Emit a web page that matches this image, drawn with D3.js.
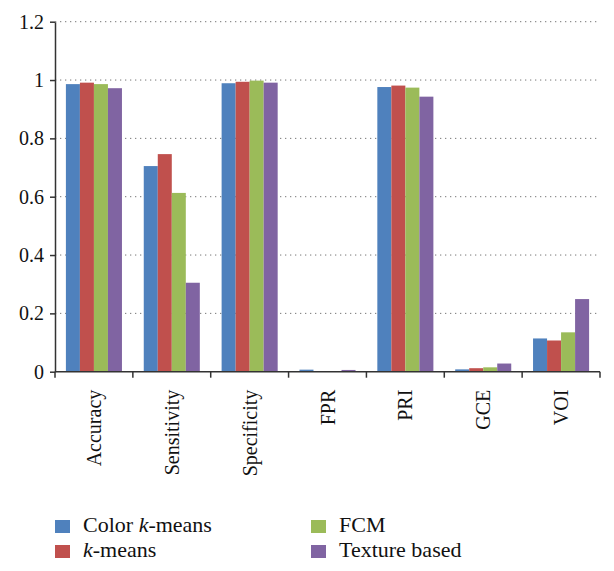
<!DOCTYPE html>
<html>
<head>
<meta charset="utf-8">
<script src="https://cdn.jsdelivr.net/npm/d3@7"></script>
<style>
  body { margin: 0; background: #fff; }
  text { font-family: "Liberation Serif", "DejaVu Serif", serif; fill: #111; }
</style>
</head>
<body>
<div class="canvas-graph"></div>
<script>
const categories = ['Accuracy', 'Sensitivity', 'Specificity', 'FPR', 'PRI', 'GCE', 'VOI'];
const seriesNames = ['Color k-means', 'k-means', 'FCM', 'Texture based'];
const colorKMeans = [0.986, 0.705, 0.989, 0.007, 0.976, 0.008, 0.114];
const kMeans      = [0.991, 0.746, 0.994, 0.002, 0.981, 0.012, 0.107];
const fcm         = [0.986, 0.613, 0.998, 0.001, 0.974, 0.015, 0.135];
const texture     = [0.972, 0.305, 0.991, 0.006, 0.943, 0.028, 0.249];
const yTicks = [0, 0.2, 0.4, 0.6, 0.8, 1, 1.2];

const seriesValues = [colorKMeans, kMeans, fcm, texture];
const colors = ['#4F81BD', '#C0504D', '#9BBB59', '#8064A2'];

const dims = { width: 614, height: 571 };
const plot = { left: 55, right: 600, top: 21.7, bottom: 371.7 };

const svg = d3.select('.canvas-graph')
    .append('svg')
    .attr('width', dims.width)
    .attr('height', dims.height);

const x = d3.scaleBand()
    .domain(categories)
    .range([plot.left, plot.right])
    .paddingInner(0.28)
    .paddingOuter(0.14);

const x1 = d3.scaleBand()
    .domain(seriesNames)
    .range([0, x.bandwidth()]);

const y = d3.scaleLinear()
    .domain([0, 1.2])
    .range([plot.bottom, plot.top]);

const color = d3.scaleOrdinal().domain(seriesNames).range(colors);

// dotted gridlines
svg.append('g')
    .selectAll('line')
    .data(yTicks.filter(d => d > 0))
    .enter()
    .append('line')
    .attr('x1', plot.left)
    .attr('x2', plot.right)
    .attr('y1', d => y(d))
    .attr('y2', d => y(d))
    .attr('stroke', '#777')
    .attr('stroke-width', 1)
    .attr('stroke-dasharray', '1.3,3.7');

// bars
const rows = categories.map((c, i) => ({
    cat: c,
    vals: seriesNames.map((s, j) => ({ name: s, value: seriesValues[j][i] }))
}));

svg.append('g')
    .selectAll('g')
    .data(rows)
    .enter()
    .append('g')
    .attr('transform', d => `translate(${x(d.cat)}, 0)`)
    .selectAll('rect')
    .data(d => d.vals)
    .enter()
    .append('rect')
    .attr('x', d => x1(d.name))
    .attr('width', x1.bandwidth())
    .attr('y', d => y(d.value))
    .attr('height', d => y(0) - y(d.value))
    .attr('fill', d => color(d.name));

// y axis
const yAxis = d3.axisLeft(y)
    .tickValues(yTicks)
    .tickFormat(d => d3.format('')(+d.toFixed(1)))
    .tickSize(5)
    .tickSizeOuter(0)
    .tickPadding(6);

const yG = svg.append('g')
    .attr('transform', `translate(${plot.left}, 0)`)
    .call(yAxis);
yG.select('.domain').attr('stroke', '#333').attr('stroke-width', 1.5);
yG.selectAll('.tick line').attr('stroke', '#333').attr('stroke-width', 1.5);
yG.selectAll('text')
    .style('font-family', '"Liberation Serif", serif')
    .style('font-size', '20px')
    .attr('fill', '#111');

// x axis line and boundary ticks
const xG = svg.append('g');
xG.append('line')
    .attr('x1', plot.left)
    .attr('x2', plot.right)
    .attr('y1', y(0))
    .attr('y2', y(0))
    .attr('stroke', '#333')
    .attr('stroke-width', 1.5);

const bounds = d3.range(categories.length + 1).map(i => plot.left + i * (plot.right - plot.left) / categories.length);
xG.selectAll('line.tk')
    .data(bounds)
    .enter()
    .append('line')
    .attr('class', 'tk')
    .attr('x1', d => d)
    .attr('x2', d => d)
    .attr('y1', y(0))
    .attr('y2', y(0) + 6)
    .attr('stroke', '#333')
    .attr('stroke-width', 1.5);

xG.selectAll('text')
    .data(categories)
    .enter()
    .append('text')
    .attr('transform', d => `translate(${x(d) + x.bandwidth() / 2}, ${y(0) + 18}) rotate(-90)`)
    .attr('text-anchor', 'end')
    .attr('dy', '0.35em')
    .style('font-size', '20px')
    .text(d => d);

// legend
const legendPos = [
    { x: 55, y: 520 },
    { x: 55, y: 545 },
    { x: 311, y: 520 },
    { x: 311, y: 545 }
];

const legend = svg.append('g')
    .selectAll('g')
    .data(seriesNames)
    .enter()
    .append('g')
    .attr('transform', (d, i) => `translate(${legendPos[i].x}, ${legendPos[i].y})`);

legend.append('rect')
    .attr('width', 15)
    .attr('height', 13)
    .attr('fill', d => color(d));

legend.append('text')
    .attr('x', 28)
    .attr('y', 12)
    .style('font-size', '22px')
    .each(function(d) {
        const t = d3.select(this);
        const m = d.match(/^(.*?)(k)(-means.*)$/);
        if (m) {
            if (m[1]) t.append('tspan').text(m[1]);
            t.append('tspan').style('font-style', 'italic').text(m[2]);
            t.append('tspan').text(m[3]);
        } else {
            t.text(d);
        }
    });
</script>
</body>
</html>
